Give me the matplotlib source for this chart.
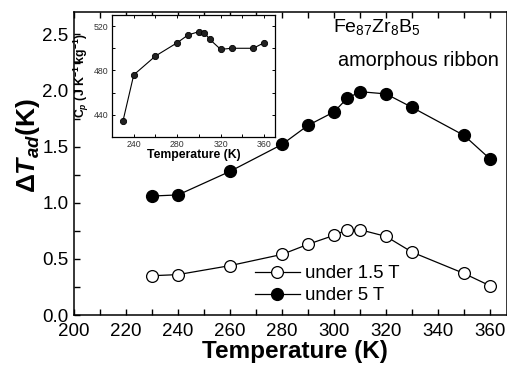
import matplotlib
matplotlib.use("Agg")
import matplotlib.pyplot as plt
from matplotlib.ticker import MultipleLocator

plt.rcParams['font.family'] = ['Liberation Sans', 'DejaVu Sans']
plt.rcParams['mathtext.fontset'] = 'custom'
plt.rcParams['mathtext.rm'] = 'Liberation Sans'
plt.rcParams['mathtext.it'] = 'Liberation Sans:italic'
plt.rcParams['mathtext.bf'] = 'Liberation Sans:bold'
plt.rcParams['mathtext.bfit'] = 'Liberation Sans:bold:italic'

# Main data
temp_5T = [230, 240, 260, 280, 290, 300, 305, 310, 320, 330, 350, 360]
dT_5T = [1.06, 1.07, 1.28, 1.52, 1.69, 1.81, 1.93, 1.99, 1.97, 1.85, 1.60, 1.39]
temp_15T = [230, 240, 260, 280, 290, 300, 305, 310, 320, 330, 350, 360]
dT_15T = [0.35, 0.36, 0.44, 0.54, 0.63, 0.71, 0.76, 0.76, 0.70, 0.56, 0.37, 0.26]

# Inset data
temp_cp = [230, 240, 260, 280, 290, 300, 305, 310, 320, 330, 350, 360]
cp = [434, 476, 493, 505, 512, 515, 514, 508, 499, 500, 500, 505]

xticks = [200, 220, 240, 260, 280, 300, 320, 340, 360]
yticks = [0.0, 0.5, 1.0, 1.5, 2.0, 2.5]

W, H = 507, 365
fig = plt.figure(figsize=(W / 100, H / 100), dpi=100)
ax = fig.add_axes([74 / W, 50 / H, 433 / W, 303 / H])

ax.plot(temp_15T, dT_15T, '-o', color='black', lw=0.9, ms=8.5,
        mfc='white', mec='black', mew=0.9, label='under 1.5 T')
ax.plot(temp_5T, dT_5T, '-o', color='black', lw=0.9, ms=8.5,
        mfc='black', mec='black', label='under 5 T')

ax.set_xlim(200, 366.5)
ax.set_ylim(0, 2.7)
ax.set_xticks(xticks)
ax.set_yticks(yticks)
ax.set_xticklabels([str(t) for t in xticks])
ax.set_yticklabels([f'{t:.1f}' for t in yticks])
ax.xaxis.set_minor_locator(MultipleLocator(10))
ax.yaxis.set_minor_locator(MultipleLocator(0.25))
ax.tick_params(which='both', direction='in', top=True, right=False,
               labelsize=13.5, width=1.0, length=4)
ax.tick_params(axis='x', pad=6)
ax.tick_params(axis='y', pad=4)
for s in ax.spines.values():
    s.set_linewidth(1.1)

ax.set_xlabel('Temperature (K)', fontsize=17.5, fontweight='bold')
ax.xaxis.label.set_va('center')
ax.set_ylabel(r'$\mathbf{\Delta}\mathbfit{T}_{\mathbfit{ad}}$$\mathbf{(K)}$', fontsize=19)
ax.xaxis.set_label_coords(0.51, -0.122)
ax.yaxis.set_label_coords(-0.075, 0.56)

ax.text(299.5, 2.57, r'Fe$_{87}$Zr$_{8}$B$_{5}$', fontsize=14, va='center', ha='left')
ax.text(301.5, 2.27, 'amorphous ribbon', fontsize=14.3, va='center', ha='left')

leg = ax.legend(loc='upper left', bbox_to_anchor=((255 - 74) / 433, (315 - 265) / 303),
                frameon=False, fontsize=13.4, handlelength=2.4, handletextpad=0.3,
                labelspacing=0.28, borderpad=0, borderaxespad=0)

# Inset
axi = fig.add_axes([112 / W, (H - 137) / H, 163 / W, 122 / H])
axi.plot(temp_cp, cp, '-o', color='black', lw=0.8, ms=4.5, mfc='#222222', mec='black', mew=0.6)
axi.set_xlim(220, 370)
axi.set_ylim(420, 530)
axi.xaxis.set_major_locator(MultipleLocator(40))
axi.xaxis.set_minor_locator(MultipleLocator(20))
axi.yaxis.set_major_locator(MultipleLocator(40))
axi.yaxis.set_minor_locator(MultipleLocator(20))
axi.tick_params(which='both', direction='in', top=True, right=True,
                labelsize=6.3, labelcolor='#333333', length=2.5, width=0.7, pad=2.5)
for s in axi.spines.values():
    s.set_linewidth(0.9)
axi.set_xlabel('Temperature (K)', fontsize=8.8, fontweight='bold')
axi.set_ylabel(r'$\mathbf{C}_{\mathbfit{p}}$$\mathbf{\ (J\ K^{-1}\ kg^{-1})}$', fontsize=8.8)
axi.xaxis.set_label_coords(0.5, -0.1)
axi.yaxis.set_label_coords(-0.13, 0.5)

fig.savefig('out.png', dpi=100)
